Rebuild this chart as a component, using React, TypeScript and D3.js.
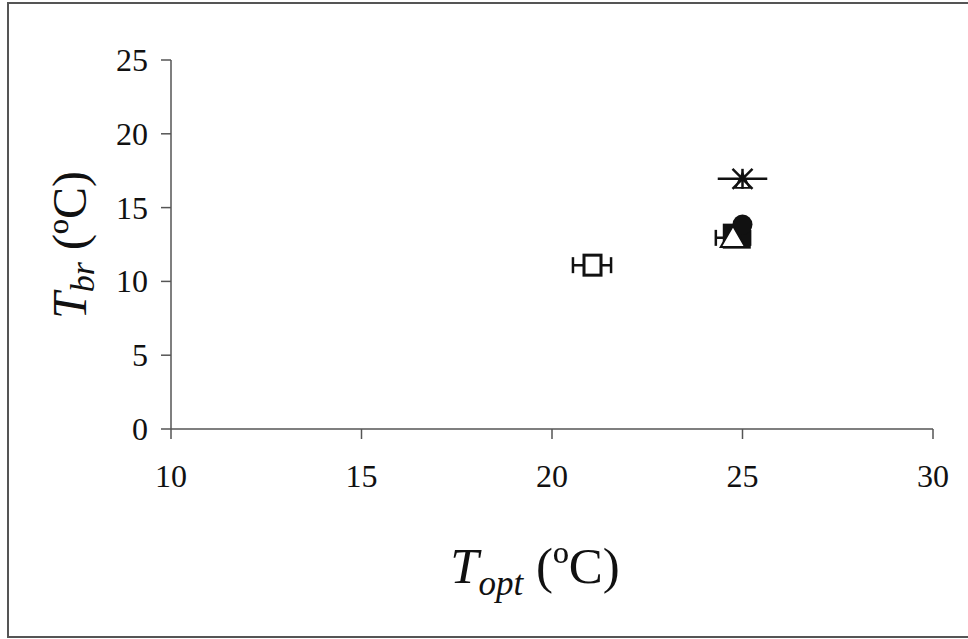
import React from "react";
import * as d3 from "d3";

// Optimal temperature vs. break temperature, per group
const openSquare = [{ x: 21.05, y: 11.1, xerr: 0.5 }];
const filledSquare = [{ x: 24.85, y: 13.1, xerr: 0.45 }];
const openTriangle = [{ x: 24.75, y: 12.95, xerr: 0.45 }];
const filledCircle = [{ x: 25.0, y: 13.85, xerr: 0 }];
const asterisk = [{ x: 25.0, y: 16.95, xerr: 0.65 }];

const xTicks = [10, 15, 20, 25, 30];
const yTicks = [0, 5, 10, 15, 20, 25];

const W = 968;
const H = 639;
const FONT = "'Liberation Serif', 'Times New Roman', serif";

type Pt = { x: number; y: number; xerr: number };

export default function App() {
  const x = d3.scaleLinear().domain([10, 30]).range([171, 933]);
  const y = d3.scaleLinear().domain([0, 25]).range([429, 60]);

  const errBar = (d: Pt, key: string, caps = true) =>
    d.xerr > 0 ? (
      <g key={key} stroke="#111" strokeWidth={2.5}>
        <line x1={x(d.x - d.xerr)} x2={x(d.x + d.xerr)} y1={y(d.y)} y2={y(d.y)} />
        {caps && (
          <>
            <line x1={x(d.x - d.xerr)} x2={x(d.x - d.xerr)} y1={y(d.y) - 8} y2={y(d.y) + 8} />
            <line x1={x(d.x + d.xerr)} x2={x(d.x + d.xerr)} y1={y(d.y) - 8} y2={y(d.y) + 8} />
          </>
        )}
      </g>
    ) : null;

  const tri = d3.symbol().type(d3.symbolTriangle).size(260)();

  return (
    <svg width={W} height={H} style={{ position: "absolute", left: 0, top: 0, background: "#fff" }}>
      <rect x={8} y={3} width={W + 10} height={634} fill="#fff" stroke="#555" strokeWidth={2} />

      {/* axes */}
      <g stroke="#555" strokeWidth={1.5} fill="none">
        <line x1={x(10)} x2={x(10)} y1={y(25)} y2={y(0)} />
        <line x1={x(10)} x2={x(30)} y1={y(0)} y2={y(0)} />
        {yTicks.map((t) => (
          <line key={"yt" + t} x1={x(10) - 10} x2={x(10)} y1={y(t)} y2={y(t)} />
        ))}
        {xTicks.map((t) => (
          <line key={"xt" + t} x1={x(t)} x2={x(t)} y1={y(0)} y2={y(0) + 10} />
        ))}
      </g>

      {/* tick labels */}
      <g fontFamily={FONT} fontSize={32} fill="#111">
        {yTicks.map((t) => (
          <text key={"yl" + t} x={148} y={y(t) + 11}  textAnchor="end">
            {t}
          </text>
        ))}
        {xTicks.map((t) => (
          <text key={"xl" + t} x={x(t)} y={487} textAnchor="middle">
            {t}
          </text>
        ))}
      </g>

      {/* axis titles */}
      <text x={535} y={583} textAnchor="middle" fontFamily={FONT} fontSize={51} fill="#111">
        <tspan fontStyle="italic">T</tspan>
        <tspan fontStyle="italic" fontSize={35} dy={12}>opt</tspan>
        <tspan dy={-12}> (ºC)</tspan>
      </text>
      <text
        transform="translate(86,245) rotate(-90)"
        textAnchor="middle"
        fontFamily={FONT}
        fontSize={48}
        fill="#111"
      >
        <tspan fontStyle="italic">T</tspan>
        <tspan fontStyle="italic" fontSize={34} dy={8}>br</tspan>
        <tspan dy={-8}> (ºC)</tspan>
      </text>

      {/* error bars */}
      {openSquare.map((d, i) => errBar(d, "es" + i))}
      {openTriangle.map((d, i) => errBar(d, "et" + i))}
      {asterisk.map((d, i) => errBar(d, "ea" + i, false))}

      {/* markers */}
      {filledSquare.map((d, i) => (
        <rect key={"fs" + i} x={x(d.x) - 14} y={y(d.y) - 12} width={28} height={25} fill="#111" />
      ))}
      {filledCircle.map((d, i) => (
        <circle key={"fc" + i} cx={x(d.x)} cy={y(d.y)} r={10} fill="#111" />
      ))}
      {openTriangle.map((d, i) => (
        <path
          key={"ot" + i}
          d={tri || ""}
          transform={`translate(${x(d.x)},${y(d.y) + 2})`}
          fill="#fff"
          stroke="#111"
          strokeWidth={2}
        />
      ))}
      {openSquare.map((d, i) => (
        <rect
          key={"os" + i}
          x={x(d.x) - 8}
          y={y(d.y) - 10}
          width={17}
          height={20}
          fill="#fff"
          stroke="#111"
          strokeWidth={3}
        />
      ))}
      {asterisk.map((d, i) => {
        const cx = x(d.x);
        const cy = y(d.y);
        const r = 10;
        return (
          <g key={"as" + i} stroke="#111" strokeWidth={2.5} fill="none">
            <line x1={cx - r} y1={cy - r} x2={cx + r} y2={cy + r} />
            <line x1={cx + r} y1={cy - r} x2={cx - r} y2={cy + r} />
            <line x1={cx} y1={cy - r} x2={cx} y2={cy + r} />
            <path d={`M${cx - 7},${cy + 9} L${cx},${cy - 6} L${cx + 7},${cy + 9} Z`} strokeWidth={1.8} />
          </g>
        );
      })}
    </svg>
  );
}
